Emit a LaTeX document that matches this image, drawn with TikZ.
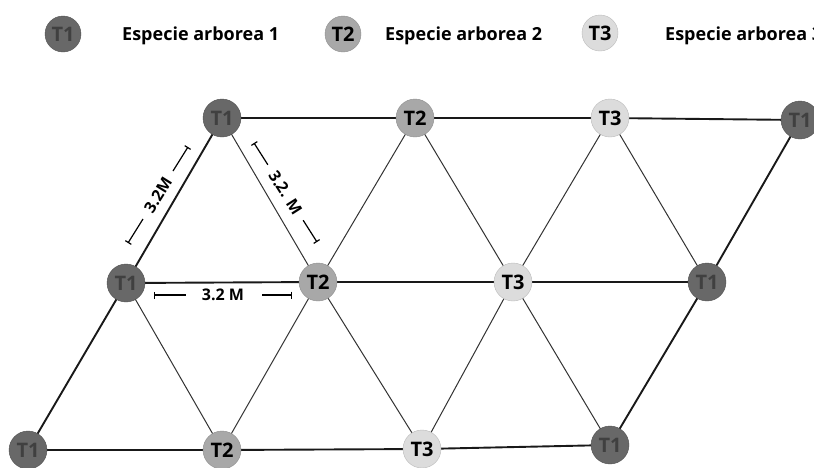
\documentclass[tikz,border=0pt]{standalone}
\usepackage{fontspec}
\setmainfont{Open Sans}
\usetikzlibrary{arrows.meta,calc}
\definecolor{cone}{HTML}{686868}
\definecolor{ctwo}{HTML}{A8A8A8}
\definecolor{cthree}{HTML}{DCDCDC}
\begin{document}
\begin{tikzpicture}[x=1pt,y=-1pt,
 tree/.style={circle,minimum size=38pt,inner sep=0pt,font=\fontsize{20}{20}\selectfont\bfseries},
 tone/.style={tree,fill=cone,draw=cone!80!black,text=black!75},
 ttwo/.style={tree,fill=ctwo,draw=ctwo!85!black,text=black},
 tthree/.style={tree,fill=cthree,draw=cthree!85!black,text=black},
 hline/.style={line width=1.9pt,black!90},
 iline/.style={line width=1pt,black!80},
 dimline/.style={line width=1.2pt,arrows={Bar[width=7pt,line width=1.2pt]-}},
 dimtext/.style={font=\fontsize{16}{16}\selectfont\bfseries,inner sep=0pt},
 legtext/.style={font=\fontsize{18}{18}\selectfont\bfseries,anchor=west,inner sep=0pt}
]
\useasboundingbox (0,0) rectangle (814,467);
\fill[white] (0,0) rectangle (814,467);

% legend
\node[tone,minimum size=36pt] (l1) at (63,34) {T1};
\node[legtext] (lt1) at (122,36) {Especie arborea 1};
\node[ttwo,minimum size=36pt] (l2) at (343,34) {T2};
\node[legtext] (lt2) at (385,36) {Especie arborea 2};
\node[tthree,minimum size=36pt] (l3) at (600,33) {T3};
\node[legtext] (lt3) at (665,36) {Especie arborea 3};

% coordinates of the trees
\coordinate (pt1) at (222,118);
\coordinate (pt2) at (415,118);
\coordinate (pt3) at (610,118);
\coordinate (pt4) at (800,120);
\coordinate (pm1) at (126,283);
\coordinate (pm2) at (318,282);
\coordinate (pm3) at (513,282);
\coordinate (pm4) at (707,282);
\coordinate (pb1) at (28,450);
\coordinate (pb2) at (222,450);
\coordinate (pb3) at (422,449);
\coordinate (pb4) at (610,445);

% interior thin lines
\draw[iline] (pm1) -- (pb2);
\draw[iline] (pt1) -- (pm2);
\draw[iline] (pm2) -- (pb2);
\draw[iline] (pt2) -- (pm2);
\draw[iline] (pm2) -- (pb3);
\draw[iline] (pt2) -- (pm3);
\draw[iline] (pm3) -- (pb3);
\draw[iline] (pt3) -- (pm3);
\draw[iline] (pm3) -- (pb4);
\draw[iline] (pt3) -- (pm4);

% thick lines
\draw[hline] (pt1) -- (pt2) -- (pt3) -- (pt4);
\draw[hline] (pm1) -- (pm2) -- (pm3) -- (pm4);
\draw[hline] (pb1) -- (pb2) -- (pb3) -- (pb4);
\draw[hline] (pb1) -- (pm1) -- (pt1);
\draw[hline] (pb4) -- (pm4) -- (pt4);

% tree nodes
\node[tone] (t1) at (pt1) {T1};
\node[ttwo] (t2) at (pt2) {T2};
\node[tthree] (t3) at (pt3) {T3};
\node[tone] (t4) at (pt4) {T1};
\node[tone] (m1) at (pm1) {T1};
\node[ttwo] (m2) at (pm2) {T2};
\node[tthree] (m3) at (pm3) {T3};
\node[tone] (m4) at (pm4) {T1};
\node[tone] (b1) at (pb1) {T1};
\node[ttwo] (b2) at (pb2) {T2};
\node[tthree] (b3) at (pb3) {T3};
\node[tone] (b4) at (pb4) {T1};

% dimensions
\coordinate (d1a) at (128,243);
\coordinate (d1b) at (188,147);
\draw[dimline] (d1a) -- ($(d1a)!0.25!(d1b)$);
\draw[dimline] (d1b) -- ($(d1b)!0.25!(d1a)$);
\node[dimtext,rotate=58] (dt1) at ($(d1a)!0.5!(d1b)$) {3.2M};

\coordinate (d2a) at (254,143);
\coordinate (d2b) at (317,242);
\draw[dimline] (d2a) -- ($(d2a)!0.22!(d2b)$);
\draw[dimline] (d2b) -- ($(d2b)!0.22!(d2a)$);
\node[dimtext,rotate=-57.5] (dt2) at ($(d2a)!0.5!(d2b)$) {3.2. M};

\coordinate (d3a) at (154,295);
\coordinate (d3b) at (292,295);
\draw[dimline] (d3a) -- (186,295);
\draw[dimline] (d3b) -- (262,295);
\node[dimtext] (dt3) at (223,295) {3.2 M};
\end{tikzpicture}
\end{document}
